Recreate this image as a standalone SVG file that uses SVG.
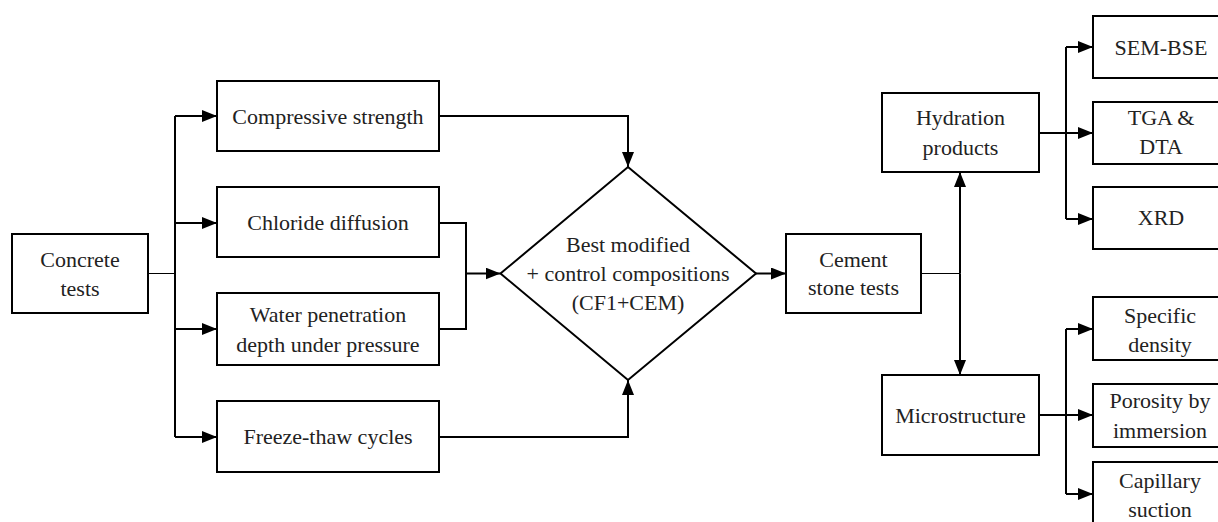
<svg xmlns="http://www.w3.org/2000/svg" width="1218" height="522" viewBox="0 0 1218 522">
<defs>
<marker id="arr" markerUnits="userSpaceOnUse" markerWidth="15" markerHeight="12" refX="15" refY="6" orient="auto">
<path d="M0,0 L15,6 L0,12 Z" fill="#000"/>
</marker>
<style>
.box{fill:#fff;stroke:#000;stroke-width:2}
.t{font-size:22px;fill:#222;text-anchor:middle}
.c{fill:none;stroke:#000;stroke-width:2}
.thin{fill:none;stroke:#000;stroke-width:1}
.a{marker-end:url(#arr)}
</style>
</defs>
<rect width="1218" height="522" fill="#fff"/>
<g id="connectors">
<path class="thin" d="M148,273.5 H175"/>
<path class="c" d="M175,116 V437"/>
<path class="c a" d="M175,116 H217"/>
<path class="c a" d="M175,223 H217"/>
<path class="c a" d="M175,329 H217"/>
<path class="c a" d="M175,437 H217"/>
<path class="c a" d="M439,116 H628 V167"/>
<path class="c" d="M439,223 H466 V329 H439"/>
<path class="c a" d="M466,273.5 H500.5"/>
<path class="c a" d="M439,437 H628 V380"/>
<path class="c a" d="M756,273.5 H786"/>
<path class="thin" d="M921,273.5 H960"/>
<path class="c a" d="M960,273.5 V172"/>
<path class="c a" d="M960,273.5 V375"/>
<path class="c a" d="M1039,133 H1093"/>
<path class="c" d="M1066,47 V219"/>
<path class="c a" d="M1066,47 H1093"/>
<path class="c a" d="M1066,219 H1093"/>
<path class="c a" d="M1039,415 H1093"/>
<path class="c" d="M1066,329 V494"/>
<path class="c a" d="M1066,329 H1093"/>
<path class="c a" d="M1066,494 H1093"/>
</g>
<g font-family="Liberation Serif, DejaVu Serif, Times New Roman, serif">
<g id="concrete-tests"><rect class="box" x="12" y="234" width="136" height="79"/><text class="t" x="80" y="267">Concrete</text><text class="t" x="80" y="296">tests</text></g>
<g id="compressive"><rect class="box" x="217" y="81" width="222" height="70"/><text class="t" x="328" y="124">Compressive strength</text></g>
<g id="chloride"><rect class="box" x="217" y="187" width="222" height="70"/><text class="t" x="328" y="230">Chloride diffusion</text></g>
<g id="water"><rect class="box" x="217" y="293" width="222" height="72"/><text class="t" x="328" y="322">Water penetration</text><text class="t" x="328" y="352">depth under pressure</text></g>
<g id="freeze"><rect class="box" x="217" y="401" width="222" height="71"/><text class="t" x="328" y="444">Freeze-thaw cycles</text></g>
<g id="best"><polygon class="box" points="628,167 756,273.5 628,380 500.5,273.5"/><text class="t" x="628" y="252">Best modified</text><text class="t" x="628" y="281">+ control compositions</text><text class="t" x="628" y="310">(CF1+CEM)</text></g>
<g id="cement"><rect class="box" x="786" y="234" width="135" height="79"/><text class="t" x="853.5" y="267">Cement</text><text class="t" x="853.5" y="295">stone tests</text></g>
<g id="hydration"><rect class="box" x="882" y="93" width="157" height="79"/><text class="t" x="960.5" y="125">Hydration</text><text class="t" x="960.5" y="155">products</text></g>
<g id="microstructure"><rect class="box" x="882" y="375" width="157" height="80"/><text class="t" x="960.5" y="423">Microstructure</text></g>
<g id="sem"><rect class="box" x="1093" y="16" width="140" height="62"/><text class="t" x="1161" y="55">SEM-BSE</text></g>
<g id="tga"><rect class="box" x="1093" y="102" width="140" height="62"/><text class="t" x="1161" y="125">TGA &amp;</text><text class="t" x="1161" y="154">DTA</text></g>
<g id="xrd"><rect class="box" x="1093" y="187" width="140" height="62"/><text class="t" x="1161" y="225">XRD</text></g>
<g id="specific"><rect class="box" x="1093" y="297" width="140" height="63"/><text class="t" x="1160" y="323">Specific</text><text class="t" x="1160" y="352">density</text></g>
<g id="porosity"><rect class="box" x="1093" y="384" width="140" height="63"/><text class="t" x="1160" y="408">Porosity by</text><text class="t" x="1160" y="438">immersion</text></g>
<g id="capillary"><rect class="box" x="1093" y="462" width="140" height="70"/><text class="t" x="1160" y="488">Capillary</text><text class="t" x="1160" y="517">suction</text></g>
</g>
</svg>
